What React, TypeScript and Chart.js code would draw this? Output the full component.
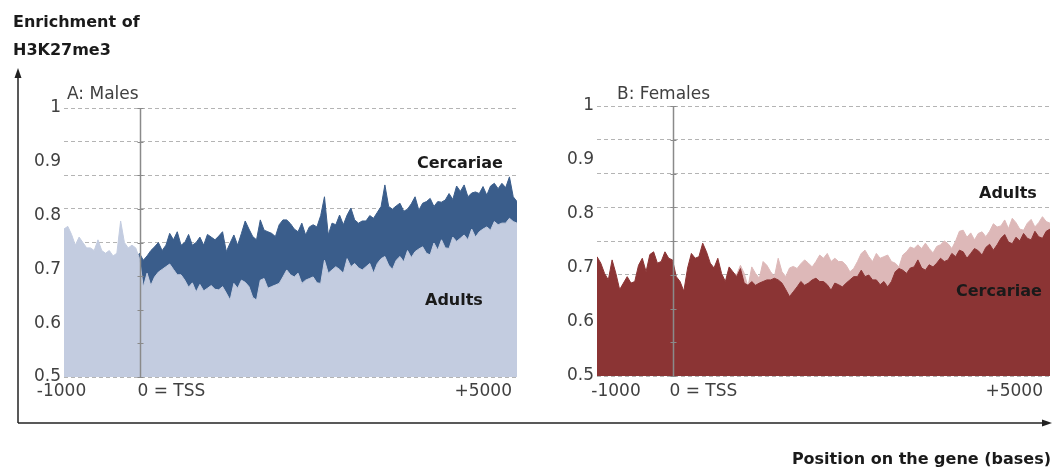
import React, { useEffect, useRef } from "react";
import { Chart, registerables } from "chart.js";

Chart.register(...registerables);

// Position on the gene (bases), relative to the TSS
const positions = [
  -1000, -950, -900, -850, -800, -750, -700, -650, -600, -550, -500, -450, -400, -350, -300, -250, -200, -150, -100, -50,
  0, 50, 100, 150, 200, 250, 300, 350, 400, 450, 500, 550, 600, 650, 700, 750, 800, 850, 900, 950,
  1000, 1050, 1100, 1150, 1200, 1250, 1300, 1350, 1400, 1450, 1500, 1550, 1600, 1650, 1700, 1750, 1800, 1850, 1900, 1950,
  2000, 2050, 2100, 2150, 2200, 2250, 2300, 2350, 2400, 2450, 2500, 2550, 2600, 2650, 2700, 2750, 2800, 2850, 2900, 2950,
  3000, 3050, 3100, 3150, 3200, 3250, 3300, 3350, 3400, 3450, 3500, 3550, 3600, 3650, 3700, 3750, 3800, 3850, 3900, 3950,
  4000, 4050, 4100, 4150, 4200, 4250, 4300, 4350, 4400, 4450, 4500, 4550, 4600, 4650, 4700, 4750, 4800, 4850, 4900, 4950,
  5000,
];

// A: Males
const malesAdults = [
  0.775, 0.78, 0.765, 0.745, 0.76, 0.75, 0.74, 0.74, 0.735, 0.755, 0.735, 0.73, 0.735, 0.725, 0.73, 0.79, 0.75, 0.74, 0.745, 0.74,
  0.72, 0.667, 0.693, 0.67, 0.686, 0.695, 0.7, 0.705, 0.71, 0.7, 0.69, 0.69, 0.68, 0.667, 0.675, 0.658, 0.672, 0.66, 0.665, 0.67,
  0.663, 0.662, 0.668, 0.656, 0.643, 0.674, 0.665, 0.68, 0.676, 0.668, 0.648, 0.643, 0.68, 0.683, 0.665, 0.668, 0.671, 0.674, 0.686, 0.699,
  0.69, 0.686, 0.693, 0.674, 0.68, 0.683, 0.686, 0.675, 0.674, 0.717, 0.693, 0.699, 0.705, 0.7, 0.693, 0.72, 0.705, 0.711, 0.703, 0.699,
  0.705, 0.711, 0.693, 0.711, 0.72, 0.724, 0.708, 0.7, 0.717, 0.724, 0.714, 0.735, 0.722, 0.733, 0.738, 0.742, 0.73, 0.727, 0.749, 0.736,
  0.755, 0.74, 0.739, 0.76, 0.752, 0.758, 0.764, 0.755, 0.775, 0.76, 0.77, 0.775, 0.779, 0.773, 0.789, 0.783, 0.786, 0.786, 0.795, 0.789,
  0.786,
];
const malesCercariae = [
  0.74, 0.745, 0.73, 0.725, 0.735, 0.725, 0.72, 0.715, 0.72, 0.73, 0.715, 0.71, 0.715, 0.705, 0.71, 0.73, 0.725, 0.72, 0.725, 0.72,
  0.73, 0.717, 0.725, 0.735, 0.742, 0.75, 0.735, 0.745, 0.767, 0.755, 0.77, 0.745, 0.75, 0.765, 0.745, 0.75, 0.76, 0.745, 0.765, 0.76,
  0.755, 0.762, 0.77, 0.733, 0.749, 0.764, 0.745, 0.767, 0.79, 0.775, 0.761, 0.755, 0.792, 0.773, 0.77, 0.767, 0.761, 0.783, 0.792, 0.792,
  0.785, 0.775, 0.77, 0.786, 0.764, 0.779, 0.783, 0.779, 0.8, 0.835, 0.764, 0.786, 0.783, 0.801, 0.783, 0.801, 0.814, 0.792, 0.786, 0.79,
  0.79, 0.8, 0.795, 0.806, 0.817, 0.857, 0.817, 0.812, 0.818, 0.823, 0.808, 0.812, 0.822, 0.835, 0.81, 0.823, 0.826, 0.832, 0.817, 0.826,
  0.825, 0.829, 0.841, 0.83, 0.855, 0.845, 0.857, 0.835, 0.842, 0.844, 0.841, 0.854, 0.838, 0.855, 0.86, 0.85, 0.86, 0.852, 0.872, 0.835,
  0.826,
];

// B: Females
const femalesCercariae = [
  0.721, 0.709, 0.69, 0.678, 0.715, 0.69, 0.66, 0.672, 0.684, 0.672, 0.675, 0.705, 0.718, 0.693, 0.725, 0.73, 0.709, 0.712, 0.73, 0.718,
  0.715, 0.684, 0.675, 0.657, 0.7, 0.727, 0.718, 0.721, 0.746, 0.73, 0.709, 0.7, 0.718, 0.69, 0.675, 0.702, 0.693, 0.684, 0.699, 0.672,
  0.668, 0.675, 0.668, 0.672, 0.675, 0.678, 0.678, 0.681, 0.678, 0.672, 0.66, 0.647, 0.656, 0.665, 0.675, 0.668, 0.672, 0.678, 0.681, 0.675,
  0.675, 0.669, 0.659, 0.672, 0.669, 0.665, 0.672, 0.678, 0.684, 0.684, 0.696, 0.684, 0.687, 0.678, 0.678, 0.669, 0.675, 0.665, 0.675, 0.693,
  0.699, 0.696, 0.69, 0.7, 0.702, 0.715, 0.7, 0.696, 0.706, 0.702, 0.709, 0.718, 0.712, 0.715, 0.727, 0.721, 0.733, 0.73, 0.718, 0.727,
  0.736, 0.732, 0.724, 0.738, 0.744, 0.733, 0.743, 0.755, 0.762, 0.748, 0.745, 0.757, 0.75, 0.764, 0.755, 0.752, 0.768, 0.758, 0.755, 0.768,
  0.772,
];
const femalesAdults = [
  0.705, 0.695, 0.68, 0.665, 0.7, 0.68, 0.65, 0.66, 0.67, 0.66, 0.665, 0.69, 0.7, 0.68, 0.71, 0.715, 0.695, 0.7, 0.715, 0.705,
  0.7, 0.67, 0.66, 0.645, 0.685, 0.71, 0.705, 0.705, 0.73, 0.715, 0.695, 0.69, 0.705, 0.68, 0.67, 0.695, 0.69, 0.688, 0.705, 0.69,
  0.665, 0.702, 0.69, 0.681, 0.712, 0.705, 0.693, 0.684, 0.718, 0.693, 0.684, 0.7, 0.703, 0.699, 0.708, 0.715, 0.709, 0.702, 0.712, 0.724,
  0.718, 0.727, 0.712, 0.718, 0.712, 0.712, 0.705, 0.693, 0.699, 0.712, 0.727, 0.733, 0.721, 0.712, 0.727, 0.718, 0.721, 0.724, 0.712, 0.709,
  0.702, 0.724, 0.73, 0.739, 0.736, 0.743, 0.736, 0.746, 0.736, 0.728, 0.74, 0.743, 0.75, 0.745, 0.736, 0.75, 0.768, 0.77, 0.757, 0.765,
  0.752, 0.764, 0.767, 0.758, 0.768, 0.782, 0.776, 0.778, 0.789, 0.773, 0.792, 0.784, 0.772, 0.77, 0.783, 0.79, 0.776, 0.784, 0.795, 0.786,
  0.783,
];

const xTickValues = [-1000, 0, 5000];
const xTickLabels = ["-1000", "0 = TSS", "+5000"];
const yMin = 0.5;
const yMax = 1;
const yLabelStep = 0.1;
const yGridStep = 0.0625;

const FONT = '"DejaVu Sans", sans-serif';

const overlayPlugin = {
  id: "tssOverlay",
  afterDatasetsDraw(chart: any, _args: any, opts: any) {
    const { ctx, chartArea, scales } = chart;
    const x = Math.round(scales.x.getPixelForValue(0)) + 0.5;
    ctx.save();
    ctx.strokeStyle = "#8a8a8a";
    ctx.lineWidth = 1.5;
    ctx.beginPath();
    ctx.moveTo(x, chartArea.top);
    ctx.lineTo(x, chartArea.bottom);
    ctx.stroke();
    ctx.lineWidth = 1;
    ctx.beginPath();
    scales.yg.ticks.forEach((t: any) => {
      const y = Math.round(scales.yg.getPixelForValue(t.value)) + 0.5;
      ctx.moveTo(x - 3, y);
      ctx.lineTo(x + 3, y);
    });
    ctx.stroke();
    ctx.fillStyle = "#404040";
    ctx.font = `17px ${FONT}`;
    ctx.textBaseline = "alphabetic";
    xTickValues.forEach((v, i) => {
      const px = scales.x.getPixelForValue(v) + opts.offsets[i];
      ctx.textAlign = opts.aligns[i];
      ctx.fillText(xTickLabels[i], px, opts.baseline);
    });
    ctx.restore();
  },
};

type PanelProps = {
  left: number;
  top: number;
  width: number;
  height: number;
  padTop: number;
  padRight: number;
  padBottom: number;
  axisWidth: number;
  datasets: { label: string; values: number[]; color: string }[];
  offsets: number[];
  aligns: string[];
  baseline: number;
};

function Panel(p: PanelProps) {
  const ref = useRef<HTMLCanvasElement>(null);
  useEffect(() => {
    if (!ref.current) return;
    const chart = new Chart(ref.current, {
      type: "line",
      data: {
        datasets: p.datasets.map((d) => ({
          label: d.label,
          data: positions.map((x, i) => ({ x, y: d.values[i] })),
          borderColor: d.color,
          backgroundColor: d.color,
          borderWidth: 1,
          pointRadius: 0,
          tension: 0,
          fill: "start",
          yAxisID: "y",
        })),
      },
      options: {
        responsive: false,
        animation: false,
        devicePixelRatio: 1,
        layout: { padding: { top: p.padTop, right: p.padRight, bottom: p.padBottom, left: 0 } },
        plugins: {
          legend: { display: false },
          tooltip: { enabled: false },
          tssOverlay: { offsets: p.offsets, aligns: p.aligns, baseline: p.baseline },
        } as any,
        scales: {
          x: { type: "linear", min: positions[0], max: positions[positions.length - 1], display: false },
          y: {
            type: "linear",
            position: "left",
            min: yMin,
            max: yMax,
            ticks: {
              stepSize: yLabelStep,
              padding: 3,
              color: "#404040",
              font: { family: FONT, size: 17 },
              callback: (v: any) => String(+Number(v).toFixed(2)),
            },
            grid: { display: false, drawTicks: false },
            border: { display: false },
            afterFit: (s: any) => {
              s.width = p.axisWidth;
            },
          },
          yg: {
            type: "linear",
            position: "left",
            min: yMin,
            max: yMax,
            ticks: { display: false, stepSize: yGridStep },
            grid: { color: "#b4b4b4", lineWidth: 1, drawTicks: false, tickLength: 0 },
            border: { display: false, dash: [4, 3] },
            afterFit: (s: any) => {
              s.width = 0;
            },
          },
        } as any,
      },
      plugins: [overlayPlugin],
    });
    return () => chart.destroy();
  }, []);
  return (
    <canvas
      ref={ref}
      width={p.width}
      height={p.height}
      style={{ position: "absolute", left: p.left, top: p.top, width: p.width, height: p.height }}
    />
  );
}

const txt = (extra: React.CSSProperties): React.CSSProperties => ({
  position: "absolute",
  fontFamily: FONT,
  whiteSpace: "nowrap",
  lineHeight: "20px",
  ...extra,
});

export default function App() {
  return (
    <div style={{ position: "absolute", left: 0, top: 0, width: 1053, height: 472, background: "#fff", overflow: "hidden" }}>
      <Panel
        left={0}
        top={60}
        width={530}
        height={350}
        padTop={48}
        padRight={13}
        padBottom={33}
        axisWidth={64}
        datasets={[
          { label: "Adults", values: malesAdults, color: "#c3cce0" },
          { label: "Cercariae", values: malesCercariae, color: "#3a5d8b" },
        ]}
        offsets={[-2.5, -2, -5]}
        aligns={["center", "left", "right"]}
        baseline={336}
      />
      <Panel
        left={530}
        top={60}
        width={523}
        height={350}
        padTop={46}
        padRight={3}
        padBottom={34}
        axisWidth={67}
        datasets={[
          { label: "Cercariae", values: femalesCercariae, color: "#8b3434" },
          { label: "Adults", values: femalesAdults, color: "#ddb8b8" },
        ]}
        offsets={[19, -3, -7]}
        aligns={["center", "left", "right"]}
        baseline={336}
      />
      <svg width={1053} height={472} style={{ position: "absolute", left: 0, top: 0, pointerEvents: "none" }}>
        <line x1={18} y1={423} x2={18} y2={76} stroke="#222" strokeWidth={1.5} />
        <polygon points="18,68 14.5,78 21.5,78" fill="#222" />
        <line x1={18} y1={423} x2={1044} y2={423} stroke="#222" strokeWidth={1.5} />
        <polygon points="1052,423 1042,419.5 1042,426.5" fill="#222" />
      </svg>
      <div style={txt({ left: 13, top: 12, fontSize: 16, fontWeight: "bold", color: "#1a1a1a" })}>Enrichment of</div>
      <div style={txt({ left: 13, top: 40, fontSize: 16, fontWeight: "bold", color: "#1a1a1a" })}>H3K27me3</div>
      <div style={txt({ left: 67, top: 83, fontSize: 17, color: "#404040" })}>A: Males</div>
      <div style={txt({ left: 617, top: 83, fontSize: 17, color: "#404040" })}>B: Females</div>
      <div style={txt({ left: 417, top: 153, fontSize: 16, fontWeight: "bold", color: "#1a1a1a" })}>Cercariae</div>
      <div style={txt({ left: 425, top: 290, fontSize: 16, fontWeight: "bold", color: "#1a1a1a" })}>Adults</div>
      <div style={txt({ left: 979, top: 183, fontSize: 16, fontWeight: "bold", color: "#1a1a1a" })}>Adults</div>
      <div style={txt({ left: 956, top: 281, fontSize: 16, fontWeight: "bold", color: "#1a1a1a" })}>Cercariae</div>
      <div style={txt({ right: 2, top: 449, fontSize: 16, fontWeight: "bold", color: "#1a1a1a" })}>
        Position on the gene (bases)
      </div>
    </div>
  );
}
